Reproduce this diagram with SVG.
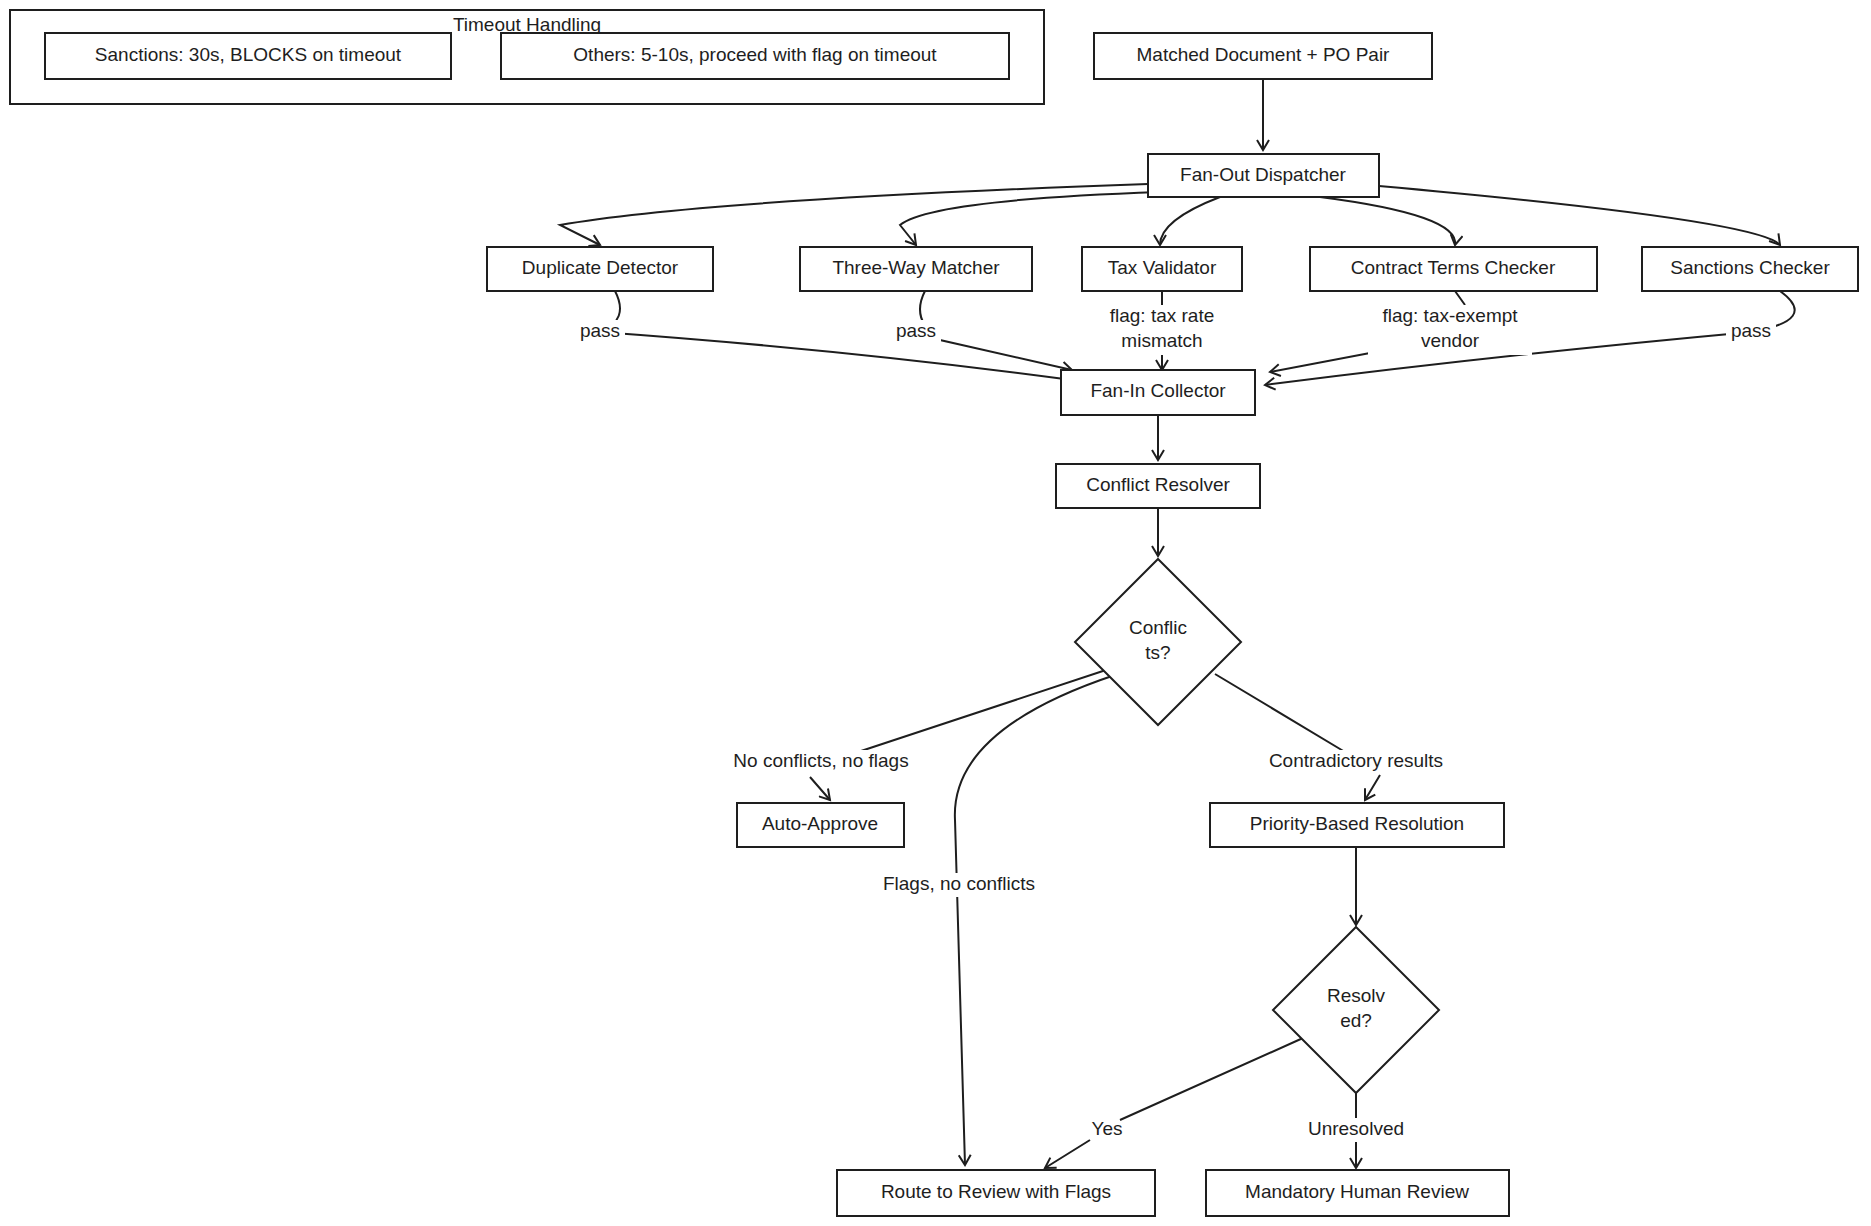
<svg xmlns="http://www.w3.org/2000/svg" width="1871" height="1226" viewBox="0 0 1871 1226">
<style>
.n{fill:#fff;stroke:#1e1e1e;stroke-width:2}
.t{font-family:"Liberation Sans",sans-serif;font-size:19px;fill:#1e1e1e;text-anchor:middle;dominant-baseline:middle}
.c path{fill:none;stroke:#1e1e1e;stroke-width:2}
.lb{fill:#fff}
</style>
<defs><marker id="a" markerWidth="14" markerHeight="14" refX="11" refY="7" orient="auto" markerUnits="userSpaceOnUse"><path d="M1,1 L11,7 L1,13" fill="none" stroke="#1e1e1e" stroke-width="2"/></marker></defs>
<rect width="1871" height="1226" fill="#fff"/>
<g id="timeout"><rect class="n" x="10" y="10" width="1034" height="94"/><text class="t" x="527" y="26">Timeout Handling</text></g>
<g id="sanctions-to"><rect class="n" x="45" y="33" width="406" height="46"/><text class="t" x="248" y="56">Sanctions: 30s, BLOCKS on timeout</text></g>
<g id="others-to"><rect class="n" x="501" y="33" width="508" height="46"/><text class="t" x="755" y="56">Others: 5-10s, proceed with flag on timeout</text></g>
<g class="c" id="connectors">
<path d="M1263,79 L1263,150" marker-end="url(#a)"/>
<path d="M1148,184 Q700,200 560,225 L600,245" marker-end="url(#a)"/>
<path d="M1160,192 Q930,200 900,225 L916,245" marker-end="url(#a)"/>
<path d="M1220,197 Q1160,220 1160,245" marker-end="url(#a)"/>
<path d="M1320,197 Q1460,215 1455,245" marker-end="url(#a)"/>
<path d="M1379,186 Q1760,220 1780,245" marker-end="url(#a)"/>
<path d="M615,291 Q630,320 600,332 Q850,350 1072,380" marker-end="url(#a)"/>
<path d="M925,291 Q910,320 940,340 L1072,370" marker-end="url(#a)"/>
<path d="M1162,291 L1162,305 M1162,355 L1162,370" marker-end="url(#a)"/>
<path d="M1455,291 L1465,305 M1370,353 L1270,372" marker-end="url(#a)"/>
<path d="M1780,291 Q1820,320 1751,332 Q1500,355 1265,385" marker-end="url(#a)"/>
<path d="M1158,415 L1158,460" marker-end="url(#a)"/>
<path d="M1158,508 L1158,556" marker-end="url(#a)"/>
<path d="M1112,668 L858,752 M810,777 L830,800" marker-end="url(#a)"/>
<path d="M1215,674 L1345,752 M1380,775 L1365,800" marker-end="url(#a)"/>
<path d="M1115,675 Q950,730 955,820 L965,1165" marker-end="url(#a)"/>
<path d="M1356,847 L1356,925" marker-end="url(#a)"/>
<path d="M1303,1038 L1120,1120 M1090,1140 L1045,1168" marker-end="url(#a)"/>
<path d="M1356,1093 L1356,1118 M1356,1142 L1356,1168" marker-end="url(#a)"/>
</g>
<g id="matched"><rect class="n" x="1094" y="33" width="338" height="46"/><text class="t" x="1263" y="56">Matched Document + PO Pair</text></g>
<g id="fanout"><rect class="n" x="1148" y="154" width="231" height="43"/><text class="t" x="1263" y="176">Fan-Out Dispatcher</text></g>
<g id="dup"><rect class="n" x="487" y="247" width="226" height="44"/><text class="t" x="600" y="269">Duplicate Detector</text></g>
<g id="three"><rect class="n" x="800" y="247" width="232" height="44"/><text class="t" x="916" y="269">Three-Way Matcher</text></g>
<g id="tax"><rect class="n" x="1082" y="247" width="160" height="44"/><text class="t" x="1162" y="269">Tax Validator</text></g>
<g id="contract"><rect class="n" x="1310" y="247" width="287" height="44"/><text class="t" x="1453" y="269">Contract Terms Checker</text></g>
<g id="sanc"><rect class="n" x="1642" y="247" width="216" height="44"/><text class="t" x="1750" y="269">Sanctions Checker</text></g>
<g id="labels1">
<rect class="lb" x="575" y="320" width="50" height="24"/><text class="t" x="600" y="332">pass</text>
<rect class="lb" x="891" y="320" width="50" height="24"/><text class="t" x="916" y="332">pass</text>
<rect class="lb" x="1726" y="320" width="50" height="24"/><text class="t" x="1751" y="332">pass</text>
<rect class="lb" x="1092" y="305" width="140" height="50"/><text class="t" x="1162" y="317">flag: tax rate</text><text class="t" x="1162" y="342">mismatch</text>
<rect class="lb" x="1368" y="305" width="164" height="50"/><text class="t" x="1450" y="317">flag: tax-exempt</text><text class="t" x="1450" y="342">vendor</text>
</g>
<g id="fanin"><rect class="n" x="1061" y="370" width="194" height="45"/><text class="t" x="1158" y="392">Fan-In Collector</text></g>
<g id="resolver"><rect class="n" x="1056" y="464" width="204" height="44"/><text class="t" x="1158" y="486">Conflict Resolver</text></g>
<g id="conflicts"><polygon class="n" points="1158,559 1241,642 1158,725 1075,642"/><text class="t" x="1158" y="629">Conflic</text><text class="t" x="1158" y="654">ts?</text></g>
<g id="labels2">
<rect class="lb" x="715" y="750" width="212" height="24"/><text class="t" x="821" y="762">No conflicts, no flags</text>
<rect class="lb" x="1252" y="750" width="208" height="24"/><text class="t" x="1356" y="762">Contradictory results</text>
<rect class="lb" x="868" y="873" width="182" height="24"/><text class="t" x="959" y="885">Flags, no conflicts</text>
<text class="t" x="1107" y="1130">Yes</text>
<rect class="lb" x="1302" y="1118" width="108" height="24"/><text class="t" x="1356" y="1130">Unresolved</text>
</g>
<g id="auto"><rect class="n" x="737" y="803" width="167" height="44"/><text class="t" x="820" y="825">Auto-Approve</text></g>
<g id="priority"><rect class="n" x="1210" y="803" width="294" height="44"/><text class="t" x="1357" y="825">Priority-Based Resolution</text></g>
<g id="resolved"><polygon class="n" points="1356,927 1439,1010 1356,1093 1273,1010"/><text class="t" x="1356" y="997">Resolv</text><text class="t" x="1356" y="1022">ed?</text></g>
<g id="route"><rect class="n" x="837" y="1170" width="318" height="46"/><text class="t" x="996" y="1193">Route to Review with Flags</text></g>
<g id="mandatory"><rect class="n" x="1206" y="1170" width="303" height="46"/><text class="t" x="1357" y="1193">Mandatory Human Review</text></g>
</svg>
